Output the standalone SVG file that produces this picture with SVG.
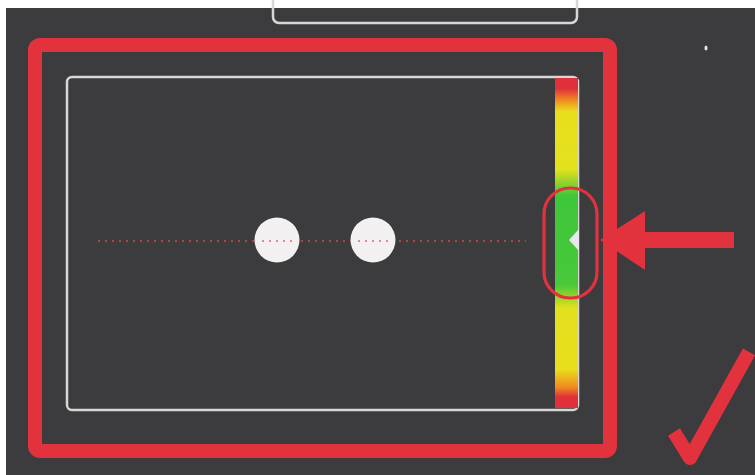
<svg xmlns="http://www.w3.org/2000/svg" width="755" height="475" viewBox="0 0 755 475">
<style>
.red{fill:none;stroke:#e2323e;stroke-linejoin:round}
.white{fill:none;stroke:#d9d7d6;stroke-width:2.5}
.dots{stroke:#d8464e;stroke-width:1.6;stroke-dasharray:2 5}
</style>
<defs>
<linearGradient id="gauge" gradientUnits="userSpaceOnUse" x1="0" y1="77" x2="0" y2="407">
<stop offset="0" stop-color="#e0303a"/>
<stop offset="0.035" stop-color="#e0303a"/>
<stop offset="0.07" stop-color="#f08a22"/>
<stop offset="0.105" stop-color="#e9df1c"/>
<stop offset="0.28" stop-color="#e3e11e"/>
<stop offset="0.36" stop-color="#3fc63a"/>
<stop offset="0.63" stop-color="#49c83a"/>
<stop offset="0.70" stop-color="#e3e01e"/>
<stop offset="0.885" stop-color="#e9df1c"/>
<stop offset="0.94" stop-color="#f08a22"/>
<stop offset="0.97" stop-color="#e0303a"/>
<stop offset="1" stop-color="#e0303a"/>
</linearGradient>
</defs>
<rect x="0" y="0" width="755" height="475" fill="#ffffff"/>
<rect x="6" y="8" width="749" height="467" fill="#3c3b3d"/>
<ellipse cx="706" cy="48" rx="1.5" ry="2.5" fill="#e8e8e8"/>
<g id="top-panel">
<rect class="white" x="273" y="-10" width="304" height="33" rx="6"/>
</g>
<g id="outer-frame">
<rect class="red" x="35" y="45" width="575" height="406" rx="5" stroke-width="14"/>
</g>
<g id="screen">
<rect class="white" x="67" y="77" width="511" height="333" rx="5"/>
</g>
<g id="gauge-bar">
<rect x="555" y="78" width="23" height="330" fill="url(#gauge)"/>
<polygon points="569,240 579,229 579,251" fill="#e8e8ec"/>
</g>
<g id="dots">
<line class="dots" x1="98" y1="241" x2="526" y2="241"/>
<circle cx="277" cy="240" r="22.5" fill="#f2f0f0"/>
<circle cx="373" cy="240" r="22.5" fill="#f2f0f0"/>
<line class="dots" x1="262" y1="241" x2="292" y2="241" opacity="0.8"/>
<line class="dots" x1="358" y1="241" x2="388" y2="241" opacity="0.8"/>
</g>
<g id="connectors">
<rect class="red" x="544" y="188" width="53" height="110" rx="26" stroke-width="3.2"/>
<polygon points="600,240 645,211 645,232 734,232 734,248 645,248 645,270" fill="#e2323e"/>
</g>
<g id="checkmark">
<polyline class="red" points="674,432 690,458 749,352" stroke-width="14" stroke-linecap="butt"/>
</g>
</svg>
